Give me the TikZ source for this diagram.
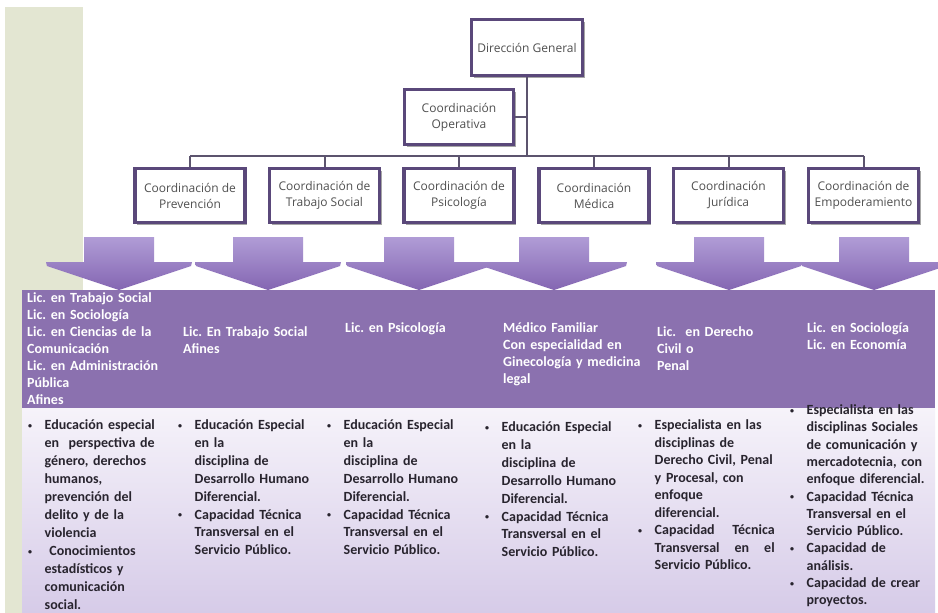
\documentclass[tikz,border=0pt]{standalone}
\usepackage{fontspec}
\setmainfont{Carlito}
\newfontfamily\boxfont{Open Sans}
\usetikzlibrary{shadows}
\frenchspacing

\definecolor{stripbg}{RGB}{227,230,210}
\definecolor{boxline}{RGB}{90,72,122}
\definecolor{boxtext}{RGB}{80,80,80}
\definecolor{linkline}{RGB}{92,84,110}
\definecolor{bandfill}{RGB}{139,113,175}
\definecolor{arrowtop}{RGB}{176,156,214}
\definecolor{arrowbot}{RGB}{132,102,178}
\definecolor{lowtop}{RGB}{246,243,250}
\definecolor{lowbot}{RGB}{214,203,232}
\definecolor{lowtext}{RGB}{40,36,46}

% small bullet and hanging indent for the profile lists
\newcommand{\dotitem}{\makebox[16.5pt][l]{\raisebox{0.2ex}{\fontsize{8}{8}\selectfont\textbullet}}}
\newcommand{\dotgap}{\hspace*{16.5pt}}

\tikzset{
  orgbox/.style={draw=boxline, line width=3.2pt, fill=white, align=center,
    font=\boxfont\fontsize{12}{16}\selectfont, text=boxtext, inner sep=2pt,
    drop shadow={shadow xshift=2pt, shadow yshift=-2pt, opacity=0.35, fill=black}},
  link/.style={draw=linkline, line width=2pt},
  bandtxt/.style={anchor=base west, inner sep=0pt, text=white,
    font=\bfseries\fontsize{14}{17}\selectfont, align=left, text width=170pt},
  lowtxt/.style={anchor=base west, inner sep=0pt, text=lowtext,
    font=\bfseries\fontsize{14}{18}\selectfont, align=left, text width=170pt},
  downarrow/.style={top color=arrowtop, bottom color=arrowbot}
}

\begin{document}
\begin{tikzpicture}[x=1pt, y=-1pt]
\useasboundingbox (0,0) rectangle (938,613);
\fill[white] (0,0) rectangle (938,613);

% side strip
\fill[stripbg] (5,7) rectangle (83,613);

% lower panel and profile band
\fill[top color=lowtop, bottom color=lowbot] (22,408) rectangle (935,613);
\fill[bandfill] (22,290) rectangle (935,408);

% down arrows
\foreach \ax in {119,268,419,554,729,874}{
  \path[downarrow] (\ax-35,237) -- (\ax+35,237) -- (\ax+35,262) -- (\ax+73,262)
    -- (\ax+72,266) -- (\ax,290) -- (\ax-72,266) -- (\ax-73,262) -- (\ax-35,262) -- cycle;
}

% organisation chart
\node[orgbox, minimum width=111pt, minimum height=56pt] (dg) at (527,47.5) {Dirección General};
\node[orgbox, minimum width=109pt, minimum height=55pt] (op) at (459,117) {Coordinación\\Operativa};

\coordinate (busL) at (190,156);
\coordinate (busR) at (864,156);

\draw[link] (dg.south) -- (dg.south |- busL);
\draw[link] (op.east) -- (op.east -| dg.south);
\draw[link] (busL) -- (busR);

\begin{scope}[every node/.style={orgbox, minimum width=110pt, minimum height=54pt}]
  \node (c1) at (190,195.5) {Coordinación de\\Prevención};
  \node (c2) at (324.5,195.5) {Coordinación de\\Trabajo Social};
  \node (c3) at (459,195.5) {Coordinación de\\Psicología};
  \node (c4) at (594,195.5) {Coordinación\\Médica};
  \node (c5) at (728.5,195.5) {Coordinación\\Jurídica};
  \node (c6) at (863.5,195.5) {Coordinación de\\Empoderamiento};
\end{scope}

\foreach \c in {c1,c2,c3,c4,c5,c6}{
  \draw[link] (\c.north) -- (\c.north |- busL);
}

% degree profiles
\node[bandtxt] (b1) at (27,302.5) {Lic. en Trabajo Social\\Lic. en Sociología\\Lic. en Ciencias de la\\Comunicación\\Lic. en Administración\\Pública\\Afines};
\node[bandtxt] (b2) at (183,336.5) {Lic. En Trabajo Social\\Afines};
\node[bandtxt] (b3) at (345,332.5) {Lic. en Psicología};
\node[bandtxt] (b4) at (503,332.5) {Médico Familiar\\Con especialidad en\\Ginecología y medicina\\legal};
\node[bandtxt] (b5) at (657,336.5) {Lic.\ \ en Derecho\\Civil o\\Penal};
\node[bandtxt] (b6) at (807,332.5) {Lic. en Sociología\\Lic. en Economía};

% required skills
\node[lowtxt] (s1) at (28,429.5) {\dotitem Educación especial\\
\dotgap en\ \ perspectiva de\\
\dotgap género, derechos\\
\dotgap humanos,\\
\dotgap prevención del\\
\dotgap delito y de la\\
\dotgap violencia\\
\dotitem\ Conocimientos\\
\dotgap estadísticos y\\
\dotgap comunicación\\
\dotgap social.};

\node[lowtxt, font=\bfseries\fontsize{14}{17.9}\selectfont] (s2) at (178,429.5) {\dotitem Educación Especial\\
\dotgap en la\\
\dotgap disciplina de\\
\dotgap Desarrollo Humano\\
\dotgap Diferencial.\\
\dotitem Capacidad Técnica\\
\dotgap Transversal en el\\
\dotgap Servicio Público.};

\node[lowtxt, font=\bfseries\fontsize{14}{17.9}\selectfont] (s3) at (327,429.5) {\dotitem Educación Especial\\
\dotgap en la\\
\dotgap disciplina de\\
\dotgap Desarrollo Humano\\
\dotgap Diferencial.\\
\dotitem Capacidad Técnica\\
\dotgap Transversal en el\\
\dotgap Servicio Público.};

\node[lowtxt, font=\bfseries\fontsize{14}{17.9}\selectfont] (s4) at (485,431.5) {\dotitem Educación Especial\\
\dotgap en la\\
\dotgap disciplina de\\
\dotgap Desarrollo Humano\\
\dotgap Diferencial.\\
\dotitem Capacidad Técnica\\
\dotgap Transversal en el\\
\dotgap Servicio Público.};

\node[lowtxt, font=\bfseries\fontsize{14}{17.5}\selectfont] (s5) at (638,429.5) {\dotitem Especialista en las\\
\dotgap disciplinas de\\
\dotgap Derecho Civil, Penal\\
\dotgap y Procesal, con\\
\dotgap enfoque\\
\dotgap diferencial.\\
\dotitem\makebox[120pt][l]{Capacidad\hfill Técnica}\\
\dotgap\makebox[120pt][l]{Transversal\hfill en\hfill el}\\
\dotgap Servicio Público.};

\node[lowtxt, font=\bfseries\fontsize{14}{17.3}\selectfont] (s6) at (790,414.5) {\dotitem Especialista en las\\
\dotgap disciplinas Sociales\\
\dotgap de comunicación y\\
\dotgap mercadotecnia, con\\
\dotgap enfoque diferencial.\\
\dotitem Capacidad Técnica\\
\dotgap Transversal en el\\
\dotgap Servicio Público.\\
\dotitem Capacidad de\\
\dotgap análisis.\\
\dotitem Capacidad de crear\\
\dotgap proyectos.};
\end{tikzpicture}
\end{document}
